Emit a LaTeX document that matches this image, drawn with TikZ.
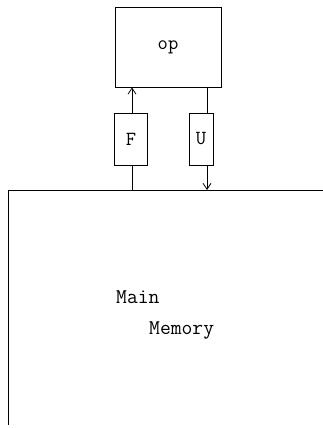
\documentclass[tikz,border=0pt]{standalone}
\usepackage{fontspec}
\usetikzlibrary{arrows.meta}
\begin{document}
\begin{tikzpicture}[x=1pt,y=-1pt,
  box/.style={draw,line width=0.8pt,inner sep=0pt,font=\ttfamily\fontsize{20}{20}\selectfont},
  conn/.style={line width=0.8pt},
  arr/.style={conn,-{Straight Barb[length=6pt,width=8pt,line width=0.8pt]}},
  lbl/.style={font=\ttfamily\fontsize{21}{21}\selectfont,anchor=west,inner sep=0pt}]
\useasboundingbox (0,0) rectangle (323,428);
\node[box,minimum width=106pt,minimum height=80pt] (op) at (168,47) {op};
\node[box,minimum width=33pt,minimum height=52pt] (F) at (131,139) {F};
\node[box,minimum width=24pt,minimum height=52pt] (U) at (201,139) {U};
\coordinate (ml) at (8,190);
\coordinate (mr) at (323,190);
\coordinate (mb) at (8,425);
\coordinate (fb) at (132,190);
\coordinate (ub) at (207,190);
\draw[conn] (mr) -- (ml) -- (mb);
\draw[conn] (fb) -- (fb |- F.south);
\draw[arr] (fb |- F.north) -- (fb |- op.south);
\draw[conn] (ub |- op.south) -- (ub |- U.north);
\draw[arr] (ub |- U.south) -- (ub);
\node[lbl] (main) at (116,297) {Main};
\node[lbl] (memory) at (149,330) {Memory};
\end{tikzpicture}
\end{document}
